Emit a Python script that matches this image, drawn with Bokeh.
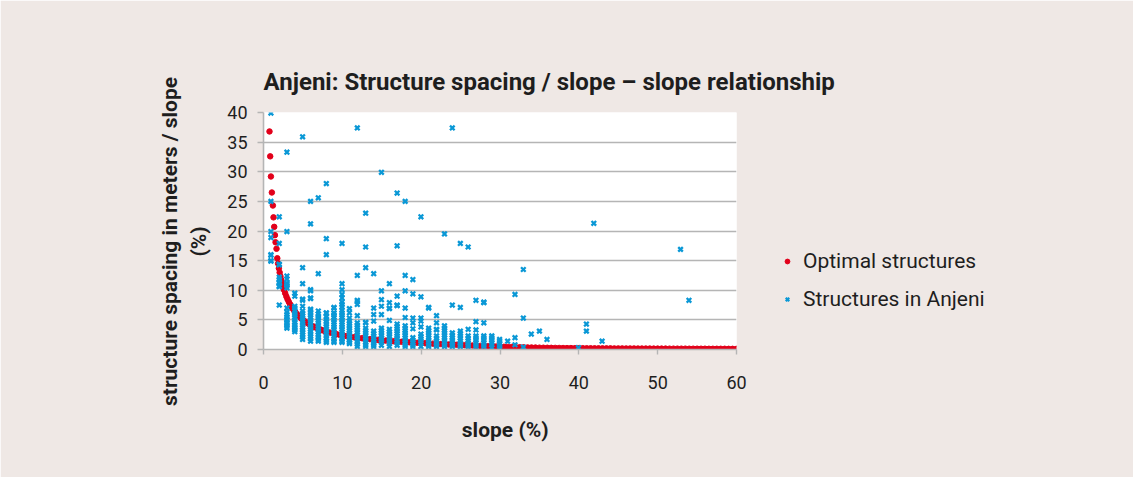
from bokeh.plotting import figure
from bokeh.models import Legend, LegendItem, ColumnDataSource, Range1d, FixedTicker
from bokeh.embed import file_html
from bokeh.resources import INLINE

# ---------------- data ----------------
# Optimal structures (slope %, spacing/slope)
optimal_slope = [0.76, 0.85, 0.94, 1.06, 1.19, 1.27, 1.36, 1.45, 1.53, 1.65,
                 1.75, 1.85, 1.95, 2.05, 2.15, 2.25, 2.35, 2.45, 2.6, 2.75,
                 2.9, 3.05, 3.2, 3.35, 3.5, 3.7, 3.9, 4.1, 4.3, 4.5,
                 4.75, 5.0, 5.25, 5.5, 5.75, 6.0, 6.3, 6.6, 6.9, 7.2,
                 7.5, 7.8, 8.1, 8.5, 8.9, 9.3, 9.7,
                 10, 10.5, 11, 11.5, 12, 12.5, 13, 13.5, 14, 14.5, 15, 15.5, 16, 16.5,
                 17, 17.5, 18, 18.5, 19, 19.5, 20, 20.5, 21, 21.5, 22, 22.5, 23, 23.5,
                 24, 24.5, 25, 25.5, 26, 26.5, 27, 27.5, 28, 28.5, 29, 29.5, 30, 30.5,
                 31, 31.5, 32, 32.5, 33, 33.5, 34, 34.5, 35, 35.5, 36, 36.5, 37, 37.5,
                 38, 38.5, 39, 39.5, 40, 40.5, 41, 41.5, 42, 42.5, 43, 43.5, 44, 44.5,
                 45, 45.5, 46, 46.5, 47, 47.5, 48, 48.5, 49, 49.5, 50, 50.5, 51, 51.5,
                 52, 52.5, 53, 53.5, 54, 54.5, 55, 55.5, 56, 56.5, 57, 57.5, 58, 58.5,
                 59, 59.5, 60]
optimal_ratio = [36.8, 32.6, 29.2, 26.5, 24.3, 22.3, 20.7, 19.3, 18.1, 17.0,
                 15.4, 14.5, 13.7, 13.0, 12.35, 11.76, 11.22, 10.73, 10.07, 9.49,
                 8.96, 8.49, 8.07, 7.68, 7.33, 6.90, 6.53, 6.19, 5.88, 5.60,
                 5.29, 5.01, 4.75, 4.52, 4.31, 4.12, 3.91, 3.72, 3.55, 3.39,
                 3.24, 3.11, 2.99, 2.84, 2.70, 2.57, 2.46,
                 2.40, 2.28, 2.17, 2.07, 1.98, 1.90, 1.82, 1.75, 1.68, 1.62, 1.56, 1.50, 1.45, 1.40,
                 1.35, 1.30, 1.26, 1.22, 1.18, 1.14, 1.10, 1.06, 1.02, 0.99, 0.95, 0.92, 0.89, 0.85,
                 0.82, 0.79, 0.76, 0.73, 0.70, 0.67, 0.64, 0.61, 0.58, 0.56, 0.53, 0.50, 0.48, 0.46,
                 0.44, 0.42, 0.40, 0.38, 0.37, 0.35, 0.34, 0.33, 0.31, 0.30, 0.29, 0.28, 0.27, 0.26,
                 0.25, 0.24, 0.24, 0.23, 0.22, 0.22, 0.21, 0.21, 0.20, 0.20, 0.19, 0.19, 0.19, 0.18,
                 0.18, 0.18, 0.17, 0.17, 0.17, 0.16, 0.16, 0.16, 0.16, 0.15, 0.15, 0.15, 0.15, 0.14,
                 0.14, 0.14, 0.14, 0.14, 0.13, 0.13, 0.13, 0.13, 0.13, 0.12, 0.12, 0.12, 0.12, 0.12,
                 0.11, 0.11, 0.11]

# Structures in Anjeni: slope of each column and its spacing/slope values
anjeni_slopes = [0.94, 2.0, 2.97, 3.97, 4.96, 5.97, 6.95, 7.97, 8.94, 9.96,
                 10.9, 11.9, 12.96, 13.98, 14.96, 15.97, 16.95, 17.97, 18.95, 19.97,
                 20.95, 21.95, 22.96, 23.95, 24.97, 25.96, 26.95, 27.95, 28.96, 29.95,
                 30.97, 31.9, 32.96, 33.97, 35.0, 35.96, 39.95, 40.96, 41.9, 42.95,
                 52.9, 53.97]
anjeni_values = [
    [39.9, 25.0, 19.9, 18.9, 16.0, 15.9, 15.0, 14.9],
    [22.4, 17.9, 14.4, 14.3, 12.2, 11.8, 11.4, 11.2, 10.7, 10.6, 7.5],
    [33.3, 19.9, 12.4, 11.9, 11.2, 11.0, 10.8, 10.4, 7.0, 6.3, 5.9, 5.5, 5.1, 4.9, 4.5, 4.2, 3.9, 3.6],
    [9.5, 9.0, 7.3, 7.0, 6.6, 6.1, 5.8, 5.4, 5.0, 4.6, 4.2, 3.9, 3.6, 3.3, 3.0],
    [35.9, 13.8, 11.1, 8.5, 8.3, 7.3, 6.5, 6.1, 5.7, 5.3, 4.9, 4.5, 4.1, 3.7, 3.3, 2.9, 2.5, 2.1, 1.7],
    [25.0, 21.2, 10.1, 9.9, 8.7, 8.6, 6.8, 6.6, 6.2, 5.8, 5.4, 5.0, 4.6, 4.2, 3.8, 3.4, 3.0, 2.6, 2.2, 1.8, 1.4],
    [25.6, 12.8, 6.5, 6.0, 5.6, 5.3, 4.9, 4.5, 4.1, 3.7, 3.3, 2.9, 2.5, 2.1, 1.7, 1.4],
    [28.0, 18.7, 16.0, 6.2, 6.1, 5.5, 5.1, 4.7, 4.3, 3.9, 3.5, 3.1, 2.7, 2.3, 1.9, 1.5, 1.2],
    [7.1, 7.0, 6.2, 6.1, 5.8, 5.4, 5.0, 4.6, 4.2, 3.8, 3.4, 3.0, 2.6, 2.2, 1.8, 1.4, 1.2],
    [17.9, 11.1, 10.1, 9.3, 8.7, 8.0, 7.6, 7.2, 6.6, 6.2, 5.8, 5.4, 5.0, 4.6, 4.2, 3.8, 3.4, 3.0, 2.6, 2.2, 1.8, 1.4, 1.2],
    [6.9, 6.2, 5.3, 4.8, 4.4, 4.0, 3.6, 3.2, 2.8, 2.4, 2.0, 1.6, 1.2, 1.0],
    [37.4, 12.5, 8.3, 8.1, 7.6, 5.7, 4.5, 4.1, 3.7, 3.3, 2.9, 2.5, 2.1, 1.7, 1.3, 0.9, 0.5],
    [23.0, 17.3, 13.8, 4.6, 4.5, 3.6, 3.2, 2.8, 2.4, 2.0, 1.6, 1.2, 0.8, 0.5],
    [12.8, 7.0, 5.9, 4.8, 3.1, 2.7, 2.3, 1.9, 1.5, 1.1, 0.8, 0.5],
    [29.9, 9.9, 8.4, 7.3, 5.9, 3.6, 3.2, 2.8, 2.4, 2.0, 1.6, 1.2, 0.7],
    [11.1, 7.9, 7.0, 6.9, 4.9, 3.4, 3.0, 2.6, 2.2, 1.8, 1.4, 1.0, 0.5],
    [26.4, 17.5, 9.0, 7.5, 7.4, 4.3, 3.9, 3.5, 3.1, 2.7, 2.3, 1.9, 1.5, 1.1, 0.7],
    [25.0, 12.5, 9.9, 7.0, 5.4, 4.0, 3.6, 3.2, 2.8, 2.4, 2.0, 1.6, 1.2, 0.8, 0.5],
    [11.8, 9.4, 5.3, 4.5, 3.5, 2.0, 1.6, 1.2, 0.8, 0.5],
    [22.4, 8.9, 5.3, 4.8, 3.8, 2.6, 2.2, 1.8, 1.4, 1.0, 0.5],
    [7.1, 7.0, 3.6, 3.2, 2.8, 2.4, 2.0, 1.6, 1.2, 0.8, 0.5],
    [5.7, 4.5, 3.4, 3.3, 2.3, 1.9, 1.5, 1.1, 0.7, 0.5],
    [19.5, 4.0, 3.6, 3.2, 2.8, 2.4, 2.0, 1.6, 1.2, 0.8, 0.5],
    [37.4, 7.5, 2.8, 2.4, 2.0, 1.6, 1.2, 0.8, 0.5],
    [17.9, 7.1, 3.1, 2.7, 2.3, 1.9, 1.5, 1.1, 0.7, 0.5],
    [17.3, 3.4, 2.3, 1.9, 1.5, 1.1, 0.7, 0.5],
    [8.3, 4.7, 3.3, 2.3, 2.0, 1.6, 1.2, 0.8, 0.5],
    [8.0, 7.9, 4.5, 2.3, 2.0, 1.6, 1.2, 0.8, 0.5],
    [2.3, 2.0, 1.6, 1.2, 0.8, 0.3],
    [1.7, 1.4, 1.0, 0.6, 0.3],
    [1.4],
    [9.3, 2.0, 0.8],
    [13.5, 5.3, 0.4],
    [2.6],
    [3.1],
    [1.7],
    [0.3],
    [4.3, 3.1],
    [21.3],
    [1.4],
    [16.9],
    [8.3],
]

x_ticks = [0, 10, 20, 30, 40, 50, 60]
y_ticks = [0, 5, 10, 15, 20, 25, 30, 35, 40]

# ---------------- build sources ----------------
blue_x, blue_y = [], []
for sx, vals in zip(anjeni_slopes, anjeni_values):
    for v in vals:
        blue_x.append(sx)
        blue_y.append(v)

red_src = ColumnDataSource(dict(x=optimal_slope, y=optimal_ratio))
blue_src = ColumnDataSource(dict(x=blue_x, y=blue_y))

BG = "#efe8e5"
FONT = "Roboto"
TXT = "#1e1e1e"
GRID = "#b5b5b5"
NB = "\u00a0"

p = figure(frame_width=473, frame_height=237, output_backend="svg", toolbar_location=None,
           x_range=Range1d(0, 60), y_range=Range1d(0, 40),
           min_border_left=263, min_border_right=389,
           min_border_top=112, min_border_bottom=128)
p.background_fill_color = "white"
p.border_fill_color = BG
p.outline_line_color = None

p.title.text = "Anjeni: Structure spacing / slope \u2013 slope relationship"
p.title.text_font = FONT
p.title.text_font_size = "24px"
p.title.text_font_style = "bold"
p.title.text_color = TXT
p.title.align = "left"
p.title.standoff = 34

r_red = p.scatter("x", "y", source=red_src, marker="circle", size=5.5,
                  fill_color="#e2001a", line_color="#e2001a")
r_blue = p.scatter("x", "y", source=blue_src, marker="x", size=6.5,
                   line_color="#0a98d6", line_width=2.3)

p.xgrid.visible = False
p.ygrid.grid_line_color = GRID
p.ygrid.grid_line_width = 1.6

for ax in (p.xaxis[0], p.yaxis[0]):
    ax.axis_line_color = GRID
    ax.axis_line_width = 1.6
    ax.major_tick_line_color = GRID
    ax.major_tick_line_width = 1.4
    ax.major_tick_in = 0
    ax.minor_tick_line_color = None
    ax.major_label_text_font = FONT
    ax.major_label_text_font_size = "18px"
    ax.major_label_text_color = TXT
    ax.axis_label_text_font = FONT
    ax.axis_label_text_font_size = "21px"
    ax.axis_label_text_font_style = "bold"
    ax.axis_label_text_color = TXT

p.xaxis.ticker = FixedTicker(ticks=x_ticks)
p.yaxis.ticker = FixedTicker(ticks=y_ticks)
p.xaxis.major_tick_out = 5
p.xaxis.major_label_standoff = 21
p.xaxis.axis_label = NB * 2 + "slope (%)"
p.xaxis.axis_label_standoff = 26
p.yaxis.major_tick_out = 6
p.yaxis.major_label_standoff = 10
p.yaxis.axis_label = "structure spacing in meters / slope" + NB * 4 + "\n(%)" + NB * 4
p.yaxis.axis_label_standoff = 13

legend = Legend(items=[LegendItem(label="Optimal structures", renderers=[r_red]),
                       LegendItem(label="Structures in Anjeni", renderers=[r_blue])],
                location=(45, 38))
legend.background_fill_alpha = 0
legend.border_line_alpha = 0
legend.label_text_font = FONT
legend.label_text_font_size = "21px"
legend.label_text_color = TXT
legend.glyph_width = 12
legend.glyph_height = 12
legend.label_height = 22
legend.label_standoff = 10
legend.spacing = 14
legend.padding = 0
legend.margin = 0
p.add_layout(legend, "right")

open("out.html", "w").write(file_html(p, INLINE))
